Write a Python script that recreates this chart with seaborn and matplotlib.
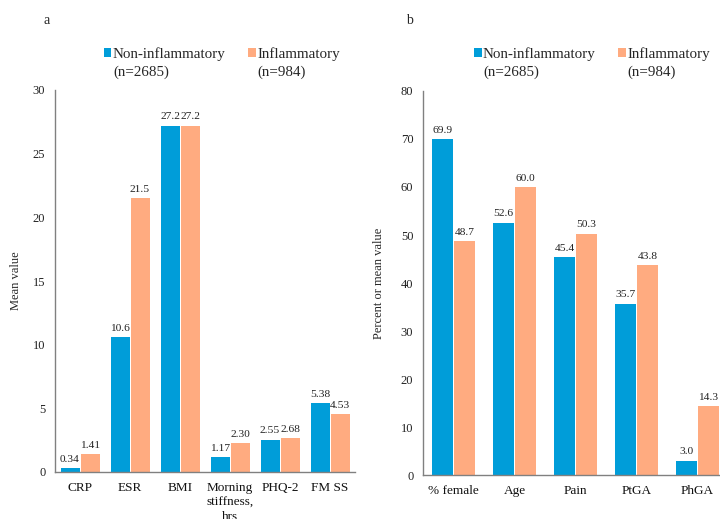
import pandas as pd
import matplotlib
matplotlib.use("Agg")
import matplotlib.pyplot as plt
import seaborn as sns

# Panel a data
cats_a = ["CRP", "ESR", "BMI", "Morning\nstiffness,\nhrs", "PHQ-2", "FM SS"]
non_a = [0.34, 10.6, 27.2, 1.17, 2.55, 5.38]
inf_a = [1.41, 21.5, 27.2, 2.30, 2.68, 4.53]

# Panel b data
cats_b = ["% female", "Age", "Pain", "PtGA", "PhGA"]
non_b = [69.9, 52.6, 45.4, 35.7, 3.0]
inf_b = [48.7, 60.0, 50.3, 43.8, 14.3]

groups = ["Non-inflammatory", "Inflammatory"]
group_n = ["(n=2685)", "(n=984)"]
colors = ["#009DD9", "#FFAB80"]

sns.set_style("white")
plt.rcParams["font.family"] = ["Liberation Serif", "DejaVu Serif"]


def long_df(cats, non, inf):
    return pd.DataFrame({
        "measure": cats + cats,
        "value": non + inf,
        "group": [groups[0]] * len(cats) + [groups[1]] * len(cats),
    })


def fmt_a(v):
    return f"{v:.2f}" if v < 10 else f"{v:.1f}"


def fmt_b(v):
    return f"{v:.1f}"


fig = plt.figure(figsize=(7.2, 5.19), dpi=100)
W, H = 720, 519

ax_a = fig.add_axes([55 / W, 1 - 472 / H, 300 / W, 382 / H])
ax_b = fig.add_axes([423 / W, 1 - 475 / H, 305 / W, 384 / H])

panels = [
    (ax_a, long_df(cats_a, non_a, inf_a), 30, 5, "Mean value", fmt_a, 0.8, -33 / 300, "a", 43, 104),
    (ax_b, long_df(cats_b, non_b, inf_b), 80, 10, "Percent or mean value", fmt_b, 0.72, -38 / 305, "b", 406, 474),
]

legends = []
for ax, df, ymax, step, ylab, fmt, width, ylx, letter, letx, legx in panels:
    sns.barplot(data=df, x="measure", y="value", hue="group", palette=colors,
                saturation=1, width=width, gap=0.05, linewidth=0, ax=ax)
    for cont in ax.containers:
        ax.bar_label(cont, labels=[fmt(b.get_height()) for b in cont],
                     padding=3, fontsize=8.2, color="#222222")
    ax.set_ylim(0, ymax)
    ax.set_yticks(range(0, ymax + 1, step))
    ax.set_xlabel("")
    ax.set_ylabel(ylab, fontsize=9)
    ax.yaxis.set_label_coords(ylx, 0.5)
    ax.tick_params(axis="y", length=0, pad=7, labelsize=9, labelcolor="#222222")
    ax.tick_params(axis="x", length=0, pad=7, labelsize=9.5, labelcolor="#111111")
    for t in ax.get_xticklabels():
        t.set_linespacing(1.3)
    sns.despine(ax=ax)
    for s in ["left", "bottom"]:
        ax.spines[s].set_color("#808080")
        ax.spines[s].set_linewidth(1.0)
    handles, labels = ax.get_legend_handles_labels()
    leg = ax.legend(handles, labels, loc="upper left", ncol=2, frameon=False,
                    bbox_to_anchor=(legx / W, 1 - 47 / H), bbox_transform=fig.transFigure,
                    borderpad=0, borderaxespad=0, fontsize=10.8, handlelength=0.5,
                    handleheight=0.5, handletextpad=0.1, columnspacing=1.5)
    legends.append(leg)
    fig.text(letx / W, 1 - 20 / H, letter, fontsize=10, va="center", ha="left")

# second line of each legend entry, under the group name
fig.canvas.draw()
for leg in legends:
    for txt, sub in zip(leg.get_texts(), group_n):
        bb = txt.get_window_extent()
        fig.text(bb.x0 / W, (bb.y1 - 19) / H, sub, fontsize=10.8, va="top", ha="left")

fig.savefig("out.png", dpi=100)
